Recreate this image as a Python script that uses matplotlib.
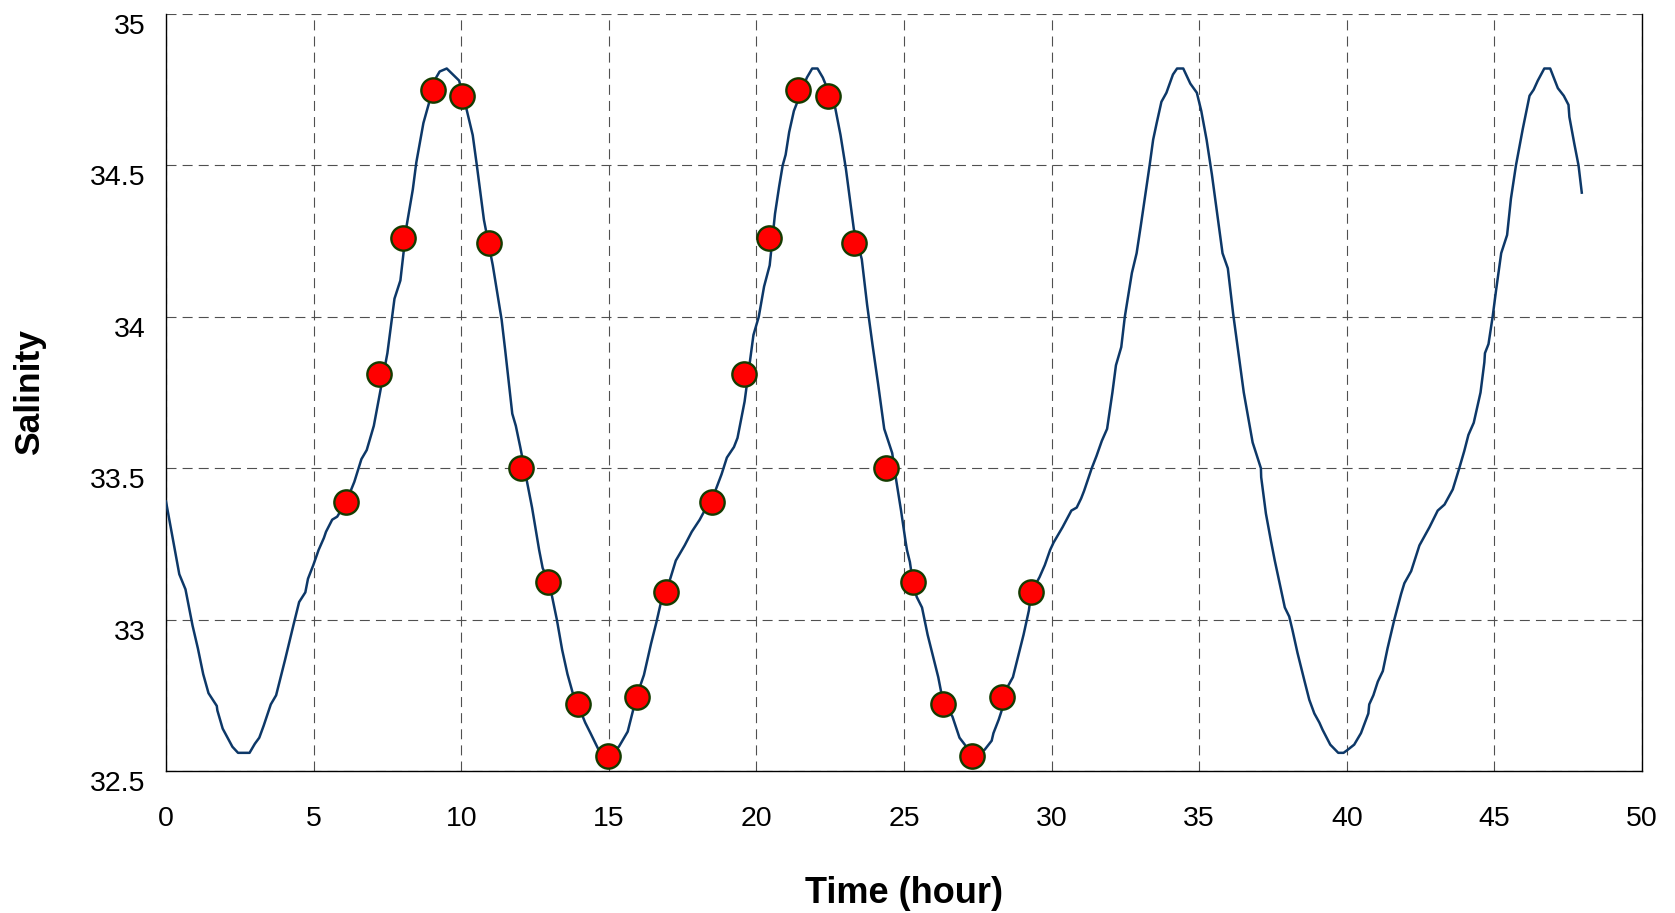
import matplotlib
matplotlib.use("Agg")
import matplotlib.pyplot as plt
from matplotlib.transforms import ScaledTranslation

plt.rcParams['font.family'] = ['Liberation Sans', 'DejaVu Sans']

# Continuous salinity record (hour, salinity)
line_time = [0.00, 0.28, 0.45, 0.66, 0.90, 1.08, 1.26, 1.44, 1.72, 1.74, 1.92, 2.25, 2.44, 2.83,
             3.01, 3.16, 3.31, 3.55, 3.73, 4.03, 4.33, 4.51, 4.72, 4.81, 4.99, 5.17, 5.35, 5.42,
             5.63, 5.80, 6.11, 6.38, 6.62, 6.80, 7.04, 7.50, 7.74, 7.94, 8.15, 8.36, 8.48, 8.72,
             9.15, 9.27, 9.51, 9.93, 10.17, 10.39, 10.53, 10.77, 11.07, 11.37, 11.49, 11.73, 11.85,
             12.00, 12.40, 12.64, 12.76, 12.95, 13.06, 13.24, 13.42, 13.60, 13.78, 13.95, 14.20,
             14.38, 14.68, 14.93, 15.34, 15.64, 15.94, 16.19, 16.43, 16.61, 16.75, 16.94, 17.27,
             17.57, 17.81, 18.08, 18.30, 18.51, 18.82, 19.00, 19.24, 19.36, 19.60, 19.90, 20.08,
             20.26, 20.45, 20.63, 20.77, 20.89, 20.99, 21.11, 21.27, 21.71, 21.89, 22.07, 22.25,
             22.67, 22.85, 23.03, 23.15, 23.30, 23.57, 23.75, 23.93, 24.12, 24.33, 24.60, 24.72,
             24.90, 25.05, 25.10, 25.20, 25.29, 25.43, 25.61, 25.80, 25.98, 26.16, 26.32, 26.64,
             26.88, 27.06, 27.30, 27.73, 27.97, 28.03, 28.21, 28.31, 28.35, 28.69, 28.87, 29.05,
             29.23, 29.31, 29.59, 29.77, 29.95, 30.07, 30.37, 30.67, 30.85, 31.00, 31.10, 31.22,
             31.36, 31.52, 31.70, 31.88, 32.06, 32.18, 32.36, 32.48, 32.72, 32.88, 33.02, 33.20,
             33.32, 33.44, 33.56, 33.72, 33.89, 34.11, 34.25, 34.46, 34.70, 34.92, 35.07, 35.25,
             35.43, 35.61, 35.79, 35.97, 36.15, 36.33, 36.51, 36.81, 37.09, 37.10, 37.26, 37.43,
             37.56, 37.77, 37.90, 38.05, 38.16, 38.33, 38.56, 38.73, 38.90, 39.07, 39.18, 39.44,
             39.71, 39.89, 40.03, 40.25, 40.48, 40.73, 40.76, 40.90, 41.05, 41.22, 41.38, 41.61,
             41.84, 41.95, 42.18, 42.46, 42.80, 43.08, 43.31, 43.59, 43.81, 43.98, 44.12, 44.30,
             44.53, 44.66, 44.68, 44.80, 44.94, 45.06, 45.23, 45.43, 45.56, 45.73, 45.96, 46.19,
             46.33, 46.47, 46.58, 46.69, 46.89, 47.05, 47.15, 47.35, 47.51, 47.54, 47.71, 47.85,
             47.96]
line_salinity = [33.39, 33.24, 33.15, 33.10, 32.98, 32.905, 32.82, 32.757, 32.715, 32.70, 32.64, 32.58,
                 32.56, 32.56, 32.59, 32.61, 32.65, 32.72, 32.75, 32.866, 32.987, 33.058, 33.09,
                 33.135, 33.18, 33.23, 33.27, 33.29, 33.33, 33.34, 33.39, 33.455, 33.53, 33.56,
                 33.64, 33.88, 34.06, 34.12, 34.30, 34.42, 34.51, 34.64, 34.79, 34.81, 34.82, 34.78,
                 34.69, 34.60, 34.50, 34.32, 34.17, 33.99, 33.89, 33.68, 33.64, 33.57, 33.37, 33.23,
                 33.17, 33.13, 33.085, 33.00, 32.90, 32.82, 32.757, 32.72, 32.66, 32.625, 32.565,
                 32.55, 32.58, 32.63, 32.746, 32.817, 32.92, 32.99, 33.05, 33.09, 33.195, 33.245,
                 33.29, 33.33, 33.37, 33.40, 33.48, 33.535, 33.57, 33.60, 33.72, 33.94, 34.00, 34.10,
                 34.17, 34.34, 34.43, 34.50, 34.535, 34.61, 34.68, 34.79, 34.82, 34.82, 34.79, 34.69,
                 34.60, 34.49, 34.40, 34.29, 34.19, 34.04, 33.91, 33.78, 33.63, 33.55, 33.47, 33.36,
                 33.26, 33.23, 33.19, 33.13, 33.075, 33.04, 32.95, 32.88, 32.81, 32.73, 32.68, 32.61,
                 32.587, 32.55, 32.57, 32.60, 32.625, 32.67, 32.70, 32.75, 32.81, 32.88, 32.95, 33.03,
                 33.09, 33.14, 33.18, 33.23, 33.255, 33.305, 33.36, 33.37, 33.40, 33.425, 33.46,
                 33.50, 33.54, 33.59, 33.63, 33.75, 33.84, 33.90, 34.00, 34.145, 34.21, 34.30, 34.42,
                 34.50, 34.585, 34.64, 34.71, 34.74, 34.80, 34.82, 34.82, 34.77, 34.74, 34.68,
                 34.585, 34.47, 34.34, 34.21, 34.16, 34.01, 33.88, 33.75, 33.585, 33.50, 33.47,
                 33.35, 33.26, 33.195, 33.10, 33.04, 33.01, 32.965, 32.89, 32.80, 32.735, 32.69,
                 32.66, 32.636, 32.587, 32.56, 32.56, 32.57, 32.587, 32.625, 32.69, 32.72, 32.75,
                 32.795, 32.83, 32.905, 33.00, 33.085, 33.12, 33.16, 33.245, 33.305, 33.36, 33.38,
                 33.43, 33.50, 33.557, 33.61, 33.65, 33.75, 33.85, 33.88, 33.91, 34.00, 34.09, 34.21,
                 34.27, 34.39, 34.50, 34.62, 34.73, 34.75, 34.78, 34.80, 34.82, 34.82, 34.78, 34.755,
                 34.73, 34.70, 34.66, 34.57, 34.50, 34.41]

# Sampled points (red dots)
sample_time = [6.11, 7.23, 8.04, 9.04, 10.04, 10.95, 12.03, 12.95, 13.95, 14.97, 15.94, 16.94,
               18.51, 19.59, 20.41, 21.41, 22.41, 23.31, 24.39, 25.29, 26.32, 27.30, 28.31, 29.31]
sample_salinity = [33.39, 33.81, 34.26, 34.75, 34.73, 34.245, 33.50, 33.125, 32.72, 32.55, 32.745, 33.09,
                   33.39, 33.81, 34.26, 34.75, 34.73, 34.245, 33.50, 33.125, 32.72, 32.55, 32.745, 33.09]

x_ticks = [0, 5, 10, 15, 20, 25, 30, 35, 40, 45, 50]
y_ticks = [32.5, 33, 33.5, 34, 34.5, 35]
y_tick_labels = ['32.5', '33', '33.5', '34', '34.5', '35']

fig = plt.figure(figsize=(16.75, 9.13), dpi=100)
ax = fig.add_axes([166 / 1675, 1 - 771 / 913, (1642 - 166) / 1675, (771 - 14) / 913])

ax.plot(line_time, line_salinity, color='#0d3868', lw=1.8, zorder=3)
ax.plot(sample_time, sample_salinity, linestyle='none', marker='o', markersize=17.5,
        markerfacecolor='#ff0000', markeredgecolor='#143c00', markeredgewidth=1.7,
        zorder=4, clip_on=False)

ax.set_xlim(0, 50)
ax.set_ylim(32.5, 35)
ax.set_xticks(x_ticks)
ax.set_yticks(y_ticks)
ax.set_yticklabels(y_tick_labels)

ax.grid(True, color='#505050', linestyle=(0, (9, 5.5)), linewidth=0.8, zorder=1)
ax.set_axisbelow(True)

for side in ['left', 'bottom', 'right']:
    ax.spines[side].set_color('black')
    ax.spines[side].set_linewidth(1.0)
ax.spines['top'].set_visible(False)

ax.tick_params(axis='both', length=0, labelsize=20.5, colors='black')
ax.tick_params(axis='x', pad=25)
ax.tick_params(axis='y', pad=15)

offset = ScaledTranslation(0, -10 / 100, fig.dpi_scale_trans)
for lab in ax.get_yticklabels():
    lab.set_transform(lab.get_transform() + offset)

ax.set_xlabel('Time (hour)', fontsize=26, fontweight='bold')
ax.set_ylabel('Salinity', fontsize=25.5, fontweight='bold')
ax.xaxis.set_label_coords(0.5, -0.139)
ax.yaxis.set_label_coords(-0.081, 0.5)

fig.savefig('out.png', dpi=100)
